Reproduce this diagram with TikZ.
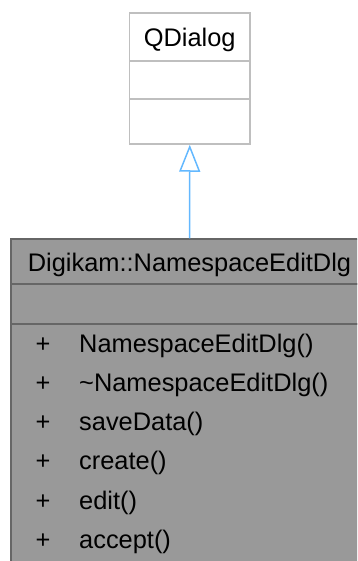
\documentclass[tikz,border=0pt]{standalone}
\usepackage{fontspec}
\setmainfont{Liberation Sans}
\usetikzlibrary{arrows.meta}
\definecolor{pborder}{HTML}{BFBFBF}
\definecolor{cfill}{HTML}{999999}
\definecolor{cborder}{HTML}{666666}
\definecolor{inh}{HTML}{63B8FF}
\begin{document}
\begin{tikzpicture}[x=1pt,y=-1pt,
  pbox/.style={draw=pborder,line width=1.5pt,fill=white,rectangle,inner sep=0pt},
  cbox/.style={draw=cborder,line width=1.5pt,fill=cfill,rectangle,inner sep=0pt},
  lbl/.style={inner sep=0pt,anchor=base,font=\fontsize{25.4}{30}\selectfont},
  mem/.style={inner sep=0pt,anchor=base west,font=\fontsize{25.4}{30}\selectfont},
  inherit/.style={draw=inh,line width=1.5pt,-{Triangle[open,length=27pt,width=21pt,line width=1.5pt]}}]
\useasboundingbox (0,0) rectangle (357,561);
\clip (0,0) rectangle (357,561);
% parent QDialog
\node[pbox,minimum width=120.5pt,minimum height=48pt] (qdt) at (189.75,37) {};
\node[pbox,minimum width=120.5pt,minimum height=38pt] (qda) at (189.75,80) {};
\node[pbox,minimum width=120.5pt,minimum height=45pt] (qdm) at (189.75,121.5) {};
\node[lbl] (qdl) at (189.75,46.7) {QDialog};
% child Digikam::NamespaceEditDlg
\node[cbox,minimum width=357pt,minimum height=45pt] (nt) at (189.5,261.5) {};
\node[cbox,minimum width=357pt,minimum height=40pt] (na) at (189.5,304) {};
\node[cbox,minimum width=357pt,minimum height=242pt] (nm) at (189.5,445) {};
\node[lbl] (ntl) at (189.5,271.7) {Digikam::NamespaceEditDlg};
\foreach \i/\t in {0/NamespaceEditDlg(),1/\textasciitilde NamespaceEditDlg(),2/saveData(),3/create(),4/edit(),5/accept()}{
  \node[lbl] (p\i) at (43,352+39.3*\i) {+};
  \node[mem] (m\i) at (79,352+39.3*\i) {\t};
}
% inheritance
\draw[inherit] (nt.north) -- (qdm.south);
\end{tikzpicture}
\end{document}
